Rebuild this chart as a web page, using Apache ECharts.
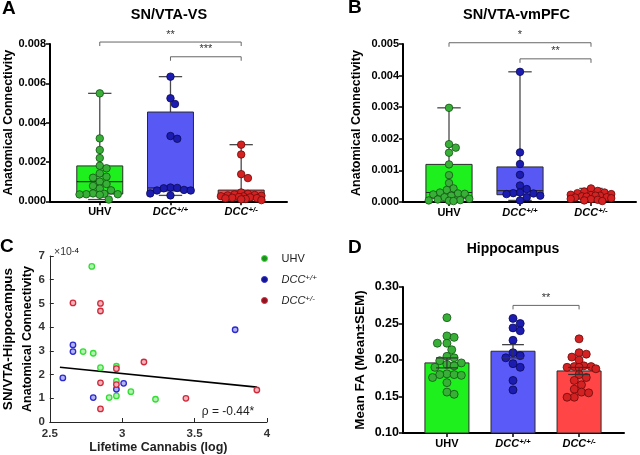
<!DOCTYPE html>
<html><head><meta charset="utf-8">
<script src="https://cdn.jsdelivr.net/npm/echarts@6/dist/echarts.min.js"></script>
<style>html,body{margin:0;padding:0;background:#fff}#c{width:640px;height:455px}</style>
</head><body><div id="c"></div>
<script>
// ---------- DATA ----------
const categories = ['UHV', 'DCC+/+', 'DCC+/-'];

// Panel A: SN/VTA-VS (individual points)
const aUHV = [0.00549, 0.00320, 0.00261, 0.00220, 0.00181, 0.00168, 0.00142, 0.00125, 0.00120, 0.00100,
              0.00088, 0.00078, 0.00065, 0.00056, 0.00040, 0.00036, 0.00035, 0.00036, 0.00038, 0.00033, 0.00009];
const aDCCpp = [0.00634, 0.00524, 0.00495, 0.00332, 0.00318, 0.00070, 0.00068, 0.00066, 0.00058, 0.00055, 0.00055, 0.00040, 0.00030];
const aDCCpm = [0.00288, 0.00238, 0.00138, 0.00118, 0.00045, 0.00038, 0.00035, 0.00032, 0.00030, 0.00028,
                0.00026, 0.00025, 0.00022, 0.00020, 0.00018, 0.00016, 0.00015, 0.00012, 0.00010, 0.00006];
// box stats [min, q1, median, q3, max]
const aBoxUHV = [0.00009, 0.00037, 0.00100, 0.00180, 0.00549];
const aBoxDCCpp = [0.00030, 0.00052, 0.00068, 0.00454, 0.00634];
const aBoxDCCpm = [0.00005, 0.00017, 0.00025, 0.00057, 0.00288];

// Panel B: SN/VTA-vmPFC
const bUHV = [0.00298, 0.00183, 0.00172, 0.00156, 0.00119, 0.00085, 0.00060, 0.00043, 0.00038, 0.00030, 0.00027,
              0.00026, 0.00024, 0.00020, 0.00015, 0.00010, 0.00008, 0.00006, 0.00005, 0.00004, 0.00003];
const bDCCpp = [0.00412, 0.00157, 0.00120, 0.00086, 0.00052, 0.00041, 0.00030, 0.00028, 0.00027, 0.00025, 0.00020, 0.00015, 0.00005];
const bDCCpm = [0.00043, 0.00035, 0.00033, 0.00030, 0.00028, 0.00025, 0.00023, 0.00022, 0.00020, 0.00020,
                0.00018, 0.00017, 0.00015, 0.00014, 0.00012, 0.00010, 0.00009, 0.00007, 0.00005, 0.00003];
const bBoxUHV = [0.00002, 0.00012, 0.00030, 0.00119, 0.00298];
const bBoxDCCpp = [0.00005, 0.00023, 0.00036, 0.00111, 0.00412];
const bBoxDCCpm = [0.00002, 0.00010, 0.00017, 0.00025, 0.00043];

// Panel C: scatter (x = lifetime cannabis log, y in units of 1e-4)
const cUHVx = [2.79, 2.73, 2.80, 2.85, 2.96, 2.96, 2.96, 2.91, 3.06, 3.23];
const cUHVy = [6.56, 2.97, 2.90, 2.29, 2.35, 1.72, 1.10, 1.03, 1.28, 0.96];
const cDCCppX = [2.66, 2.66, 2.59, 2.80, 2.96, 3.01, 3.78];
const cDCCppY = [3.25, 2.97, 1.86, 1.03, 1.38, 1.63, 3.89];
const cDCCpmX = [2.66, 2.85, 2.85, 3.15, 2.96, 2.96, 2.85, 2.85, 3.44, 3.93];
const cDCCpmY = [5.02, 5.00, 4.68, 2.53, 2.25, 1.58, 1.65, 0.55, 1.00, 1.35];
const cTrendX = [2.57, 3.93];
const cTrendY = [2.31, 1.47];
const cRhoText = 'ρ = -0.44*';

// Panel D: Hippocampus mean FA
const dUHV = [0.258, 0.233, 0.231, 0.223, 0.223, 0.214, 0.205, 0.203, 0.199, 0.196, 0.194,
              0.192, 0.190, 0.181, 0.180, 0.180, 0.179, 0.176, 0.169, 0.156, 0.153];
const dDCCpp = [0.257, 0.250, 0.244, 0.240, 0.227, 0.210, 0.206, 0.203, 0.195, 0.190, 0.172, 0.159];
const dDCCpm = [0.229, 0.210, 0.208, 0.204, 0.200, 0.192, 0.191, 0.191, 0.190, 0.190,
                0.188, 0.180, 0.176, 0.172, 0.166, 0.160, 0.156, 0.155, 0.149, 0.149];
const dMean = [0.196, 0.212, 0.185];
const dSEM = [0.0068, 0.009, 0.0048];

// significance brackets [fromCategory, toCategory, yValue, label]
const aSig = [[1, 3, 0.0081, '**'], [2, 3, 0.00735, '***']];
const bSig = [[1, 3, 0.00504, '*'], [2, 3, 0.00453, '**']];
const dSig = [[2, 3, 0.2748, '**']];

// ---------- STYLE ----------
const boxFill = ['#1ef01e', '#5858f4', '#f54848'];
const barFill = ['#1ef01e', '#5a5af8', '#ff4545'];
const ptFill = ['#38b038', '#1c1cb0', '#d42222'];
const ptBorder = ['#145214', '#0a0a55', '#6a0b0b'];
const cRing = ['#33dd33', '#2a2ad0', '#d02a3a'];
const cFill = ['#b4f2b4', '#b4b4f2', '#f2b4bc'];
const legFill = ['#1f8f1f', '#14148f', '#8f1420'];
const FONT = 'Liberation Sans, Arial, sans-serif';

const grids = [
  {left: 50, top: 44, width: 237, height: 157.3},
  {left: 403, top: 44, width: 233, height: 158},
  {left: 49, top: 256, width: 218, height: 168},
  {left: 403, top: 287, width: 221, height: 146}
];
const xr = [[0.296, 3.648], [0.352, 3.634], [2.5, 4], [0.335, 3.68]];
const yr = [[0, 0.008], [0, 0.005], [0, 7], [0.10, 0.30]];

// beeswarm-style horizontal spread, limited to a half-width cap (in axis units)
function swarm(vals, cx, gi, diam, capUnits) {
  const pxX = grids[gi].width / (xr[gi][1] - xr[gi][0]);
  const pxY = grids[gi].height / (yr[gi][1] - yr[gi][0]);
  const cap = capUnits * pxX;
  const idx = vals.map((v, i) => i).sort((a, b) => vals[b] - vals[a]);
  const placed = [];
  const out = new Array(vals.length);
  const minD = diam * 0.9, step = diam * 0.3;
  idx.forEach(i => {
    const py = vals[i] * pxY;
    let best = 0, bestD = -1;
    for (let k = 0; k < 200; k++) {
      const off = (k % 2 === 1 ? 1 : -1) * Math.ceil(k / 2) * step;
      if (Math.abs(off) > cap) break;
      let d = Infinity;
      placed.forEach(p => { d = Math.min(d, Math.hypot(p[0] - off, p[1] - py)); });
      if (d >= minD) { best = off; bestD = d; break; }
      if (d > bestD + 0.3) { bestD = d; best = off; }
    }
    placed.push([best, py]);
    out[i] = [cx + best / pxX, vals[i]];
  });
  return out;
}

function catLabel(v) {
  const i = Math.round(v) - 1;
  const n = categories[i];
  if (!n) return '';
  if (n.indexOf('DCC') === 0) return '{i|DCC}{s|' + n.slice(3) + '}';
  return '{b|' + n + '}';
}
function catRich(fs) {
  return {
    b: {fontFamily: FONT, fontWeight: 'bold', fontSize: fs, color: '#000'},
    i: {fontFamily: FONT, fontWeight: 'bold', fontStyle: 'italic', fontSize: fs, color: '#000'},
    s: {fontFamily: FONT, fontWeight: 'bold', fontStyle: 'italic', fontSize: fs * 0.72, color: '#000', verticalAlign: 'top'}
  };
}

function prismX(gi, fs) {
  return {
    type: 'value', gridIndex: gi, min: xr[gi][0], max: xr[gi][1],
    splitLine: {show: false},
    axisLine: {show: true, onZero: false, lineStyle: {color: '#000', width: 2}},
    axisTick: {show: true, customValues: [1, 2, 3], length: 4, lineStyle: {color: '#000', width: 1.5}},
    axisLabel: {show: true, customValues: [1, 2, 3], margin: 5, formatter: catLabel, rich: catRich(fs)}
  };
}
function prismY(gi, interval, digits, fs, name, nameGap, nameFs) {
  return {
    type: 'value', gridIndex: gi, min: yr[gi][0], max: yr[gi][1], interval: interval,
    splitLine: {show: false},
    axisLine: {show: true, onZero: false, lineStyle: {color: '#000', width: 2}},
    axisTick: {show: true, length: 4, lineStyle: {color: '#000', width: 1.5}},
    axisLabel: {fontFamily: FONT, fontWeight: 'bold', fontSize: fs, color: '#000', margin: 4,
                formatter: v => v.toFixed(digits)},
    name: name, nameLocation: 'middle', nameGap: nameGap,
    nameTextStyle: {fontFamily: FONT, fontWeight: 'bold', fontSize: nameFs, color: '#000'}
  };
}

function boxSeries(gi, boxes) {
  return {
    type: 'custom', xAxisIndex: gi, yAxisIndex: gi, z: 2,
    data: boxes.map((b, i) => [i + 1].concat(b)),
    renderItem: function (params, api) {
      const x = api.value(0), mn = api.value(1), q1 = api.value(2), md = api.value(3), q3 = api.value(4), mx = api.value(5);
      const hw = 0.325, cw = 0.165;
      const tl = api.coord([x - hw, q3]), br = api.coord([x + hw, q1]);
      const c = (xx, yy) => api.coord([xx, yy]);
      const ln = (p1, p2, col, w) => ({type: 'line', shape: {x1: p1[0], y1: p1[1], x2: p2[0], y2: p2[1]},
        style: {stroke: col, lineWidth: w}});
      const wc = '#4a4a4a';
      return {type: 'group', children: [
        ln(c(x, q3), c(x, mx), wc, 1.3),
        ln(c(x, q1), c(x, mn), wc, 1.3),
        ln(c(x - cw, mx), c(x + cw, mx), wc, 1.3),
        ln(c(x - cw, mn), c(x + cw, mn), wc, 1.3),
        {type: 'rect', shape: {x: tl[0], y: tl[1], width: br[0] - tl[0], height: br[1] - tl[1]},
         style: {fill: boxFill[params.dataIndex], stroke: '#2a2a2a', lineWidth: 1}},
        ln(c(x - hw, md), c(x + hw, md), '#2a2a2a', 1.2)
      ]};
    }
  };
}

function pointSeries(gi, groups, diam, capUnits) {
  return groups.map((vals, i) => ({
    type: 'scatter', xAxisIndex: gi, yAxisIndex: gi, z: 3,
    symbolSize: diam, symbol: 'circle',
    itemStyle: {color: ptFill[i], borderColor: ptBorder[i], borderWidth: 0.8, opacity: 1},
    emphasis: {disabled: true},
    data: swarm(vals, i + 1, gi, diam, capUnits)
  }));
}

function sigSeries(gi, sig) {
  return {
    type: 'custom', xAxisIndex: gi, yAxisIndex: gi, z: 5, clip: false,
    data: sig.map(s => [s[0], s[1], s[2]]),
    renderItem: function (params, api) {
      const a = api.coord([api.value(0), api.value(2)]);
      const b = api.coord([api.value(1), api.value(2)]);
      const drop = 4;
      return {type: 'group', children: [
        {type: 'polyline', shape: {points: [[a[0], a[1] + drop], [a[0], a[1]], [b[0], b[1]], [b[0], b[1] + drop]]},
         style: {stroke: '#666', lineWidth: 1, fill: null}},
        {type: 'text', x: (a[0] + b[0]) / 2, y: a[1] - 2,
         style: {text: sig[params.dataIndex][3], textAlign: 'center', textVerticalAlign: 'bottom',
                 font: '11px ' + FONT, fill: '#333'}}
      ]};
    }
  };
}

const barsD = {
  type: 'custom', xAxisIndex: 3, yAxisIndex: 3, z: 2,
  data: dMean.map((m, i) => [i + 1, m]),
  renderItem: function (params, api) {
    const x = api.value(0), m = api.value(1);
    const tl = api.coord([x - 0.333, m]), br = api.coord([x + 0.333, yr[3][0]]);
    return {type: 'rect', shape: {x: tl[0], y: tl[1], width: br[0] - tl[0], height: br[1] - tl[1]},
            style: {fill: barFill[params.dataIndex], stroke: '#2a2a2a', lineWidth: 1}};
  }
};
const errD = {
  type: 'custom', xAxisIndex: 3, yAxisIndex: 3, z: 4,
  data: dMean.map((m, i) => [i + 1, m, dSEM[i]]),
  renderItem: function (params, api) {
    const x = api.value(0), m = api.value(1), s = api.value(2);
    const c = (xx, yy) => api.coord([xx, yy]);
    const ln = (p1, p2) => ({type: 'line', shape: {x1: p1[0], y1: p1[1], x2: p2[0], y2: p2[1]},
      style: {stroke: '#333', lineWidth: 1.2}});
    const cw = 0.165;
    return {type: 'group', children: [
      ln(c(x, m - s), c(x, m + s)),
      ln(c(x - cw, m + s), c(x + cw, m + s)),
      ln(c(x - cw, m - s), c(x + cw, m - s))
    ]};
  }
};

const cGroups = [[cUHVx, cUHVy], [cDCCppX, cDCCppY], [cDCCpmX, cDCCpmY]];
const cSeries = cGroups.map((g, i) => ({
  type: 'scatter', name: categories[i], xAxisIndex: 2, yAxisIndex: 2, z: 3,
  symbol: 'circle', symbolSize: 5.5,
  itemStyle: {color: cFill[i], borderColor: cRing[i], borderWidth: 1.3, opacity: 1},
  emphasis: {disabled: true},
  data: g[0].map((x, j) => [x, g[1][j]])
}));
const cTrend = {
  type: 'line', xAxisIndex: 2, yAxisIndex: 2, z: 2, symbol: 'none',
  lineStyle: {color: '#000', width: 1.6},
  data: cTrendX.map((x, j) => [x, cTrendY[j]])
};

const matX = {
  type: 'value', gridIndex: 2, min: xr[2][0], max: xr[2][1], interval: 0.5,
  splitLine: {show: false},
  axisLine: {show: true, onZero: false, lineStyle: {color: '#262626', width: 1}},
  axisTick: {show: true, inside: true, length: 4, lineStyle: {color: '#262626'}},
  axisLabel: {fontFamily: FONT, fontWeight: 'bold', fontSize: 11.5, color: '#333', margin: 6, formatter: v => String(v)},
  name: 'Lifetime Cannabis (log)', nameLocation: 'middle', nameGap: 19,
  nameTextStyle: {fontFamily: FONT, fontWeight: 'bold', fontSize: 12.5, color: '#222'}
};
const matY = {
  type: 'value', gridIndex: 2, min: yr[2][0], max: yr[2][1], interval: 1,
  splitLine: {show: false},
  axisLine: {show: true, onZero: false, lineStyle: {color: '#262626', width: 1}},
  axisTick: {show: true, inside: true, length: 4, lineStyle: {color: '#262626'}},
  axisLabel: {fontFamily: FONT, fontWeight: 'bold', fontSize: 11.5, color: '#333', margin: 5,
              showMinLabel: true, showMaxLabel: true},
  name: '{a|SN/VTA-Hippocampus}\n{b|Anatomical Connectivity}', nameLocation: 'middle', nameGap: 9,
  nameTextStyle: {rich: {
    a: {fontFamily: FONT, fontWeight: 'bold', fontSize: 13.5, color: '#000', lineHeight: 20},
    b: {fontFamily: FONT, fontWeight: 'bold', fontSize: 12.5, color: '#000', lineHeight: 20}
  }}
};

const txt = (x, y, text, font, align, extra) => Object.assign({type: 'text', x: x, y: y,
  style: Object.assign({text: text, font: font, fill: '#000', textAlign: align || 'left', textVerticalAlign: 'middle'}, extra || {})});

const option = {
  animation: false,
  backgroundColor: '#fff',
  grid: grids,
  xAxis: [prismX(0, 11), prismX(1, 11), matX, prismX(3, 11)],
  yAxis: [
    prismY(0, 0.002, 3, 11, 'Anatomical Connectivity', 35, 12.5),
    prismY(1, 0.001, 3, 11, 'Anatomical Connectivity', 40, 12.5),
    matY,
    prismY(3, 0.05, 2, 12.5, 'Mean FA (Mean±SEM)', 36, 13.5)
  ],
  legend: {
    orient: 'vertical', left: 261, top: 253, itemWidth: 24, itemHeight: 6, itemGap: 10, padding: 0,
    selectedMode: false,
    data: categories.map((n, i) => ({name: n, icon: 'circle',
      itemStyle: {color: legFill[i], borderColor: cRing[i], borderWidth: 1}})),
    formatter: function (n) {
      if (n.indexOf('DCC') === 0) return '{i|DCC}{s|' + n.slice(3) + '}';
      return '{r|' + n + '}';
    },
    textStyle: {rich: {
      r: {fontFamily: FONT, fontSize: 11, color: '#222'},
      i: {fontFamily: FONT, fontStyle: 'italic', fontSize: 11, color: '#222'},
      s: {fontFamily: FONT, fontStyle: 'italic', fontSize: 8, color: '#222', verticalAlign: 'top'}
    }}
  },
  graphic: [
    txt(2, 9, 'A', 'bold 19px ' + FONT),
    txt(348, 8, 'B', 'bold 19px ' + FONT),
    txt(0, 247, 'C', 'bold 19px ' + FONT),
    txt(348, 248, 'D', 'bold 19px ' + FONT),
    txt(169, 15, 'SN/VTA-VS', 'bold 14.5px ' + FONT, 'center'),
    txt(516.5, 15, 'SN/VTA-vmPFC', 'bold 14.5px ' + FONT, 'center'),
    txt(513, 249, 'Hippocampus', 'bold 14px ' + FONT, 'center'),
    {type: 'text', x: 54, y: 252, style: {text: '{a|×10}{s|-4}', textVerticalAlign: 'middle',
      rich: {a: {fontFamily: FONT, fontSize: 10.5, fill: '#333', color: '#333'},
             s: {fontFamily: FONT, fontSize: 8, color: '#333', verticalAlign: 'top'}}}},
    txt(228, 412, cRhoText, '12px ' + FONT, 'center', {fill: '#222'})
  ],
  series: [
    boxSeries(0, [aBoxUHV, aBoxDCCpp, aBoxDCCpm]),
    ...pointSeries(0, [aUHV, aDCCpp, aDCCpm], 7.5, 0.3),
    sigSeries(0, aSig),
    boxSeries(1, [bBoxUHV, bBoxDCCpp, bBoxDCCpm]),
    ...pointSeries(1, [bUHV, bDCCpp, bDCCpm], 7.5, 0.3),
    sigSeries(1, bSig),
    cTrend,
    ...cSeries,
    barsD,
    ...pointSeries(3, [dUHV, dDCCpp, dDCCpm], 8, 0.28),
    errD,
    sigSeries(3, dSig)
  ]
};
const chart = echarts.init(document.getElementById('c'), null, {renderer: 'canvas'});
chart.setOption(option);
</script>
</body></html>
